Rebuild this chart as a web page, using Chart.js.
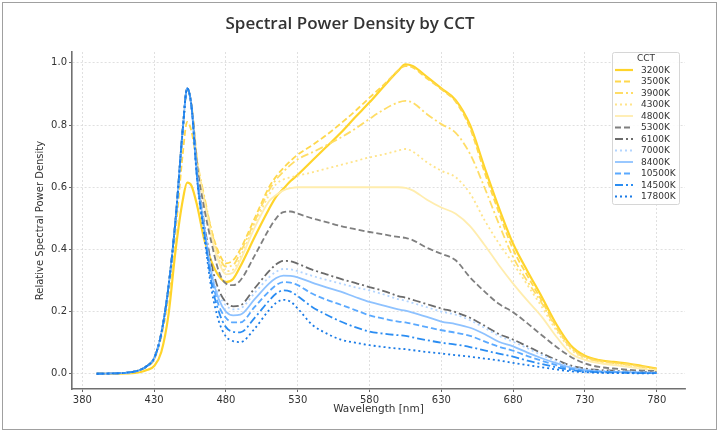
<!DOCTYPE html>
<html>
<head>
<meta charset="utf-8">
<script src="https://cdn.jsdelivr.net/npm/chart.js@4"></script>
<style>
    body { margin: 0; background: #fff; }
    canvas { display: block; }
</style>
</head>
<body>
<canvas id="chart" width="718" height="431"></canvas>
<script>
const wavelengths = [390, 400, 410, 420, 425, 430, 435, 440, 445, 450, 453, 456, 460, 465, 470, 475, 480, 485, 490, 500,
    510, 515, 520, 525, 530, 540, 550, 560, 570, 580, 590, 600, 605, 610, 620, 630, 640, 650, 660, 670,
    680, 690, 700, 710, 720, 730, 740, 750, 760, 770, 780]

const spd3200 = [0, 0, 0.001, 0.005, 0.012, 0.025, 0.07, 0.19, 0.40, 0.56, 0.615, 0.605, 0.54, 0.43, 0.36, 0.315, 0.295, 0.305, 0.345, 0.44,
    0.53, 0.57, 0.595, 0.62, 0.64, 0.685, 0.73, 0.775, 0.825, 0.873, 0.925, 0.975, 0.995, 0.99, 0.955, 0.918, 0.88, 0.80, 0.665, 0.535,
    0.418, 0.33, 0.247, 0.16, 0.092, 0.058, 0.044, 0.038, 0.033, 0.025, 0.017]
const spd3500 = [0, 0.001, 0.003, 0.011, 0.022, 0.045, 0.12, 0.25, 0.46, 0.71, 0.81, 0.78, 0.67, 0.56, 0.46, 0.39, 0.355, 0.365, 0.40, 0.50,
    0.60, 0.635, 0.662, 0.685, 0.705, 0.735, 0.768, 0.805, 0.845, 0.888, 0.93, 0.975, 0.99, 0.985, 0.95, 0.915, 0.875, 0.79, 0.65, 0.52,
    0.40, 0.315, 0.235, 0.152, 0.087, 0.055, 0.042, 0.036, 0.031, 0.023, 0.016]
const spd3900 = [0, 0.001, 0.003, 0.012, 0.025, 0.05, 0.13, 0.28, 0.5, 0.79, 0.918, 0.865, 0.69, 0.57, 0.46, 0.38, 0.345, 0.35, 0.39, 0.49,
    0.59, 0.625, 0.65, 0.672, 0.69, 0.712, 0.735, 0.76, 0.788, 0.82, 0.85, 0.873, 0.878, 0.872, 0.835, 0.803, 0.775, 0.707, 0.60, 0.483,
    0.375, 0.297, 0.227, 0.148, 0.085, 0.052, 0.04, 0.034, 0.029, 0.021, 0.014]
const spd4300 = [0, 0.001, 0.003, 0.012, 0.025, 0.05, 0.13, 0.28, 0.5, 0.79, 0.918, 0.865, 0.685, 0.56, 0.45, 0.37, 0.33, 0.335, 0.375, 0.48,
    0.575, 0.61, 0.625, 0.632, 0.637, 0.648, 0.66, 0.672, 0.684, 0.696, 0.706, 0.718, 0.723, 0.715, 0.68, 0.653, 0.632, 0.58, 0.495, 0.42,
    0.355, 0.285, 0.215, 0.14, 0.08, 0.048, 0.036, 0.031, 0.026, 0.019, 0.012]
const spd4800 = [0, 0.001, 0.003, 0.012, 0.025, 0.05, 0.13, 0.28, 0.5, 0.79, 0.918, 0.865, 0.68, 0.55, 0.44, 0.36, 0.32, 0.325, 0.365, 0.47,
    0.555, 0.575, 0.59, 0.597, 0.60, 0.60, 0.60, 0.60, 0.60, 0.60, 0.60, 0.60, 0.598, 0.59, 0.56, 0.535, 0.515, 0.475, 0.415, 0.35,
    0.29, 0.235, 0.183, 0.12, 0.066, 0.045, 0.034, 0.028, 0.022, 0.016, 0.01]
const spd5300 = [0, 0.001, 0.003, 0.012, 0.025, 0.05, 0.13, 0.28, 0.5, 0.79, 0.918, 0.865, 0.67, 0.53, 0.42, 0.33, 0.29, 0.285, 0.30, 0.38,
    0.465, 0.50, 0.52, 0.522, 0.515, 0.50, 0.488, 0.475, 0.465, 0.456, 0.448, 0.44, 0.437, 0.43, 0.405, 0.386, 0.365, 0.31, 0.265, 0.225,
    0.198, 0.162, 0.124, 0.087, 0.055, 0.033, 0.022, 0.017, 0.013, 0.01, 0.009]
const spd6100 = [0, 0.001, 0.003, 0.012, 0.025, 0.05, 0.13, 0.28, 0.5, 0.79, 0.918, 0.86, 0.645, 0.48, 0.35, 0.27, 0.23, 0.217, 0.22, 0.275,
    0.33, 0.352, 0.363, 0.362, 0.354, 0.335, 0.32, 0.305, 0.292, 0.279, 0.266, 0.25, 0.245, 0.238, 0.224, 0.21, 0.198, 0.18, 0.155, 0.128,
    0.11, 0.088, 0.066, 0.045, 0.027, 0.017, 0.012, 0.01, 0.008, 0.006, 0.005]
const spd7000 = [0, 0.001, 0.003, 0.012, 0.025, 0.05, 0.13, 0.28, 0.5, 0.79, 0.918, 0.86, 0.64, 0.475, 0.33, 0.255, 0.22, 0.207, 0.21, 0.26,
    0.31, 0.328, 0.337, 0.336, 0.33, 0.315, 0.302, 0.29, 0.278, 0.268, 0.255, 0.24, 0.235, 0.228, 0.214, 0.2, 0.19, 0.172, 0.148, 0.122,
    0.103, 0.082, 0.06, 0.041, 0.024, 0.015, 0.01, 0.008, 0.007, 0.005, 0.004]
const spd8400 = [0, 0.001, 0.003, 0.012, 0.025, 0.05, 0.13, 0.28, 0.5, 0.79, 0.918, 0.86, 0.635, 0.47, 0.32, 0.24, 0.2, 0.188, 0.19, 0.24,
    0.29, 0.308, 0.316, 0.315, 0.31, 0.293, 0.278, 0.264, 0.247, 0.231, 0.219, 0.207, 0.203, 0.197, 0.183, 0.168, 0.16, 0.148, 0.128, 0.103,
    0.088, 0.068, 0.05, 0.034, 0.02, 0.012, 0.008, 0.006, 0.005, 0.004, 0.003]
const spd10500 = [0, 0.001, 0.003, 0.012, 0.025, 0.05, 0.13, 0.28, 0.5, 0.79, 0.918, 0.86, 0.63, 0.46, 0.31, 0.22, 0.18, 0.165, 0.165, 0.215,
    0.265, 0.285, 0.295, 0.293, 0.285, 0.258, 0.238, 0.222, 0.205, 0.188, 0.177, 0.168, 0.165, 0.16, 0.15, 0.14, 0.132, 0.122, 0.104, 0.087,
    0.074, 0.057, 0.042, 0.028, 0.016, 0.01, 0.007, 0.005, 0.004, 0.003, 0.002]
const spd14500 = [0, 0.001, 0.003, 0.012, 0.025, 0.05, 0.13, 0.28, 0.5, 0.79, 0.918, 0.86, 0.625, 0.45, 0.29, 0.2, 0.15, 0.135, 0.133, 0.18,
    0.235, 0.258, 0.268, 0.264, 0.25, 0.215, 0.19, 0.168, 0.15, 0.136, 0.129, 0.124, 0.122, 0.117, 0.108, 0.1, 0.094, 0.086, 0.075, 0.065,
    0.055, 0.042, 0.031, 0.021, 0.012, 0.007, 0.005, 0.004, 0.003, 0.002, 0.002]
const spd17800 = [0, 0.001, 0.003, 0.012, 0.025, 0.05, 0.13, 0.28, 0.5, 0.79, 0.918, 0.86, 0.62, 0.44, 0.27, 0.17, 0.12, 0.105, 0.102, 0.145,
    0.205, 0.228, 0.238, 0.232, 0.21, 0.158, 0.13, 0.11, 0.1, 0.092, 0.086, 0.081, 0.079, 0.076, 0.07, 0.065, 0.06, 0.055, 0.049, 0.043,
    0.035, 0.028, 0.021, 0.014, 0.008, 0.005, 0.003, 0.002, 0.002, 0.001, 0.001]

const cctLabels = ['3200K', '3500K', '3900K', '4300K', '4800K', '5300K', '6100K', '7000K', '8400K', '10500K', '14500K', '17800K']
const cctSeries = [spd3200, spd3500, spd3900, spd4300, spd4800, spd5300, spd6100, spd7000, spd8400, spd10500, spd14500, spd17800]
const xTicks = [380, 430, 480, 530, 580, 630, 680, 730, 780]
const yTicks = [0, 0.2, 0.4, 0.6, 0.8, 1.0]

const colors = ['#FFD42A', '#FFD84D', '#FFDD66', '#FFE48A', '#FFEDAE', '#7F7F7F',
    '#6B6B6B', '#B3D5FF', '#8EC2FF', '#5AA9FF', '#2B8DF2', '#1A7BE6']
const dashed = [6, 3]
const dashDot = [8, 3, 2, 3]
const dotted = [2, 3]
const styles = [[], dashed, dashDot, dotted, [], dashed, dashDot, dotted, [], dashed, dashDot, dotted]

const datasets = cctSeries.map(function (values, i) {
    return {
        label: cctLabels[i],
        data: wavelengths.map((w, j) => ({ x: w, y: values[j] })),
        borderColor: colors[i],
        borderWidth: i === 0 ? 2.2 : 1.8,
        borderDash: styles[i],
        pointRadius: 0,
        fill: false,
        cubicInterpolationMode: 'monotone',
        order: cctLabels.length - i
    }
})

// frame, title and legend box
const decorations = {
    id: 'decorations',
    beforeDraw(chart) {
        let ctx = chart.ctx
        ctx.save()
        ctx.fillStyle = '#ffffff'
        ctx.fillRect(0, 0, chart.width, chart.height)
        ctx.restore()
    },
    afterDatasetsDraw(chart) {
        let ctx = chart.ctx
        ctx.save()
        // legend
        ctx.fillStyle = 'rgba(255,255,255,0.85)'
        ctx.strokeStyle = '#d6d6d6'
        ctx.lineWidth = 1
        ctx.beginPath()
        ctx.roundRect(612.5, 52.5, 67, 152, 2)
        ctx.fill()
        ctx.stroke()
        ctx.fillStyle = '#333'
        ctx.font = '9px "DejaVu Sans"'
        ctx.textAlign = 'center'
        ctx.textBaseline = 'middle'
        ctx.fillText('CCT', 646, 58.5)
        ctx.textAlign = 'left'
        cctLabels.forEach((label, i) => {
            let y = 70 + i * 11.5
            ctx.strokeStyle = colors[i]
            ctx.lineWidth = i === 0 ? 2.2 : 1.8
            ctx.setLineDash(styles[i])
            ctx.beginPath()
            ctx.moveTo(615, y)
            ctx.lineTo(633, y)
            ctx.stroke()
            ctx.setLineDash([])
            ctx.fillText(label, 641, y + 0.5)
        })
        ctx.restore()
    },
    afterDraw(chart) {
        let ctx = chart.ctx
        ctx.save()
        ctx.fillStyle = '#333'
        ctx.font = '600 17px "Open Sans"'
        ctx.textAlign = 'center'
        ctx.textBaseline = 'middle'
        ctx.fillText('Spectral Power Density by CCT', 350, 24)
        ctx.strokeStyle = '#a0a0a0'
        ctx.lineWidth = 1
        ctx.strokeRect(2.5, 2.5, 714, 427)
        ctx.restore()
    }
}

const tickFont = { family: 'DejaVu Sans', size: 10 }

new Chart(document.getElementById('chart'), {
    type: 'line',
    data: { datasets: datasets },
    options: {
        responsive: false,
        animation: false,
        layout: { padding: { top: 52, right: 33, bottom: 0, left: 0 } },
        plugins: {
            legend: { display: false },
            tooltip: { enabled: false }
        },
        scales: {
            x: {
                type: 'linear',
                min: 372.8,
                max: 799.7,
                afterFit: function (scale) { scale.height = 42 },
                afterBuildTicks: function (scale) { scale.ticks = xTicks.map(v => ({ value: v })) },
                ticks: {
                    font: tickFont,
                    color: '#333',
                    padding: 2,
                    maxRotation: 0,
                    callback: v => String(v)
                },
                grid: {
                    color: '#d8d8d8',
                    lineWidth: 0.8,
                    tickLength: 3,
                    tickColor: '#666',
                    tickWidth: 1,
                    tickBorderDash: []
                },
                border: { color: '#707070', width: 1.6, dash: [2, 2] },
                title: {
                    display: true,
                    text: 'Wavelength [nm]',
                    font: { family: 'DejaVu Sans', size: 10.5 },
                    color: '#333',
                    padding: { top: 0, bottom: 15.5 }
                }
            },
            y: {
                min: -0.049,
                max: 1.035,
                afterFit: function (scale) { scale.width = 72 },
                afterBuildTicks: function (scale) { scale.ticks = yTicks.map(v => ({ value: v })) },
                ticks: {
                    font: tickFont,
                    color: '#333',
                    padding: 2,
                    callback: v => v.toFixed(1)
                },
                grid: {
                    color: '#d8d8d8',
                    lineWidth: 0.8,
                    tickLength: 3,
                    tickColor: '#666',
                    tickWidth: 1,
                    tickBorderDash: []
                },
                border: { color: '#707070', width: 1.6, dash: [2, 2] },
                title: {
                    display: true,
                    text: 'Relative Spectral Power Density',
                    font: { family: 'DejaVu Sans', size: 10 },
                    color: '#333',
                    padding: { top: 34, bottom: 0 }
                }
            }
        }
    },
    plugins: [decorations]
})
</script>
</body>
</html>
